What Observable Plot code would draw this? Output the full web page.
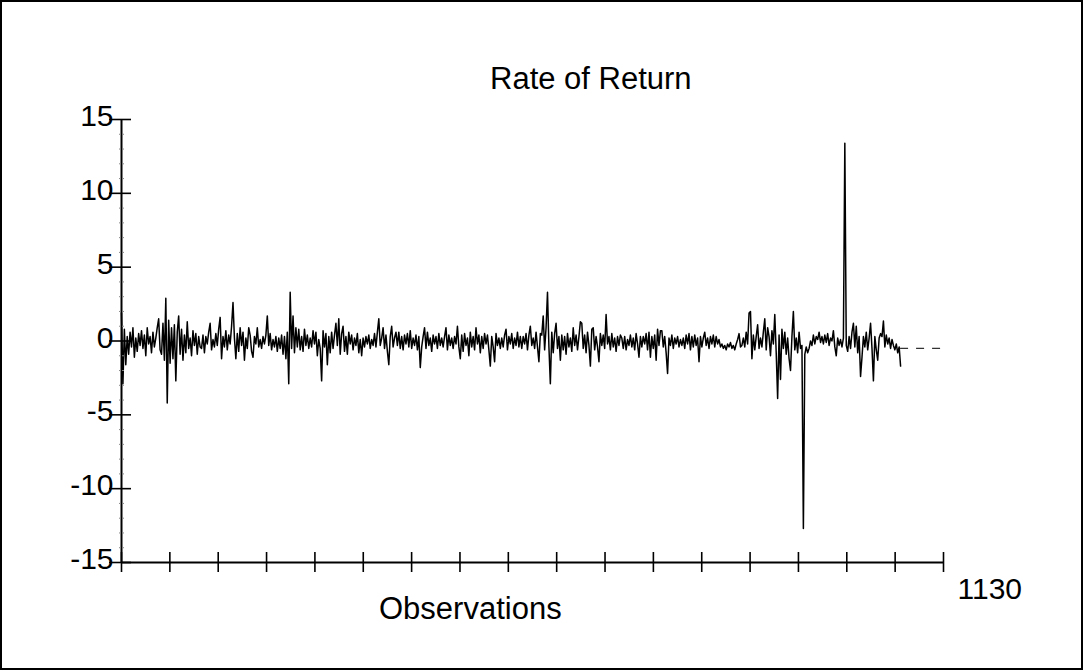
<!DOCTYPE html>
<html><head><meta charset="utf-8">
<script src="https://cdn.jsdelivr.net/npm/d3@7"></script>
<script src="https://cdn.jsdelivr.net/npm/@observablehq/plot@0.6"></script>
<style>
body{margin:0;background:#fff;}
#wrap{position:relative;width:1084px;height:671px;font-family:"Liberation Sans",Arial,sans-serif;overflow:hidden;}
#frame{position:absolute;left:0;top:0;width:1083px;height:670px;border:2px solid #000;box-sizing:border-box;pointer-events:none;}
.lbl{position:absolute;font-size:31px;line-height:31px;color:#000;white-space:nowrap;}
#chart svg{position:absolute;left:0;top:0;}
</style></head>
<body>
<div id="wrap">
  <div id="chart"></div>
  <div class="lbl" id="title" style="left:490px;top:63px">Rate of Return</div>
  <div class="lbl" id="xlabel" style="left:379px;top:593px">Observations</div>
  <div id="frame"></div>
</div>
<script>
const returns = [
  1.9, -2.9, 0.8, -1.6, 0.3, -0.9, 0.6, -0.4, 0.9, -1.1, 0.2, -0.7, 0.5, -0.3,
  0.7, -0.5, 0.4, -1.0, 0.9, -0.2, 0.3, -0.8, 0.6, -0.4, 0.2, 0.9, 1.5, -0.6,
  -0.9, 1.2, -1.3, 2.9, -4.2, 1.4, -1.5, 0.9, -1.2, 1.1, -2.7, 0.6, 1.7, -0.9,
  0.8, -1.3, 0.4, -0.8, 1.3, -0.5, 0.2, -1.0, 0.7, -0.3, 0.5, -0.9, 0.3, -0.4,
  -0.5, 0.4, -0.8, 0.3, -0.2, 0.6, 1.2, -0.6, 0.1, -0.4, 0.5, -0.3, 0.8, 1.6,
  -1.2, 0.3, -0.4, 0.7, -0.6, 0.4, -0.2, 1.0, 2.6, 0.2, -1.2, 0.5, -0.7, 0.9,
  -0.3, 0.6, -1.3, 0.2, -0.5, 0.9, 0.4, -0.7, -1.1, 0.3, -0.2, 0.9, -0.4, 0.1,
  -0.5, 0.3, -0.2, 0.4, 1.7, -0.3, 0.5, -0.6, 0.1, -0.4, 0.3, -0.7, 0.2, -0.5,
  0.4, -0.9, 0.3, -1.2, 0.6, -2.9, 3.3, -0.5, 1.7, -0.8, 0.9, -0.4, 0.8, -0.6,
  0.3, -0.7, 0.8, -0.3, 0.4, -0.5, 0.2, -0.4, 0.7, -0.2, 0.6, -1.0, 0.1, -0.5,
  -2.7, 0.7, -0.4, 0.5, -1.6, 0.3, -0.8, 0.6, -0.5, 0.4, 1.2, -0.3, 1.5, -0.9,
  0.5, 1.0, -0.7, 0.3, -0.9, 0.6, -0.2, 0.4, -0.6, 0.2, -0.3, 0.5, -0.8, 0.1,
  -1.0, 0.2, -0.4, 0.3, -0.2, 0.4, -0.5, 0.1, -0.3, 0.5, -0.4, 0.6, 1.5, -0.3,
  0.2, 0.9, -0.5, 0.4, -0.7, -1.6, 0.3, 1.0, -0.4, 0.2, 0.6, -0.3, 0.6, -0.5,
  0.3, -0.6, 0.4, -0.2, 0.5, -0.4, 0.7, -0.5, 0.2, -0.3, 0.4, -0.6, 0.3, -1.8,
  -0.4, 0.3, 0.9, -0.5, 0.6, -0.3, 0.2, -0.7, 0.4, -0.2, 0.3, -0.5, 0.5, -0.3,
  0.2, -0.4, 0.3, 0.9, -0.6, 0.4, -0.3, 0.2, -0.5, 0.3, -0.2, 1.0, -0.4, -1.2,
  0.4, -0.7, 0.5, -0.3, 0.2, -1.0, 0.6, -0.4, 0.3, -0.6, 0.9, -0.2, 0.4, -0.8,
  0.3, -0.5, 0.5, -0.2, 0.4, -0.6, -1.7, 0.3, -0.4, -1.4, 0.5, -0.3, 0.2, -0.5,
  0.2, -0.4, 0.4, 0.8, -0.6, 0.3, -0.2, 0.5, -0.5, 0.2, -0.3, 0.6, -0.4, 0.3,
  -0.5, 0.3, -0.2, 0.5, -0.6, 0.4, 1.0, -0.3, 0.2, -0.5, 0.6, -0.4, -1.4, 0.5,
  0.4, 1.7, -0.6, 0.9, 3.3, -0.4, -2.9, 0.6, -0.8, 0.5, 1.2, -0.5, 0.3, -1.3,
  0.4, -0.6, 0.3, -0.9, 0.5, -0.4, 0.2, -0.7, 0.9, -0.3, 0.4, -0.6, 0.3, 1.3,
  1.2, -0.5, 0.4, -0.8, 0.6, -0.3, -1.7, 0.8, 0.9, -0.6, 0.3, -0.4, -1.4, 0.5,
  -0.3, 0.4, -0.5, 1.8, -0.2, 0.3, -0.6, 0.5, -0.4, 0.2, -0.7, 0.3, -0.3, 0.4,
  0.2, -0.5, 0.3, -0.6, 0.1, -0.3, 0.4, -0.4, 0.2, -0.6, 0.5, -0.2, -1.1, 0.3,
  -0.4, 0.3, -0.2, 0.5, -0.6, 0.6, -1.1, 0.3, -0.5, 0.4, -1.3, 0.8, -0.3, 0.7,
  0.7, -0.4, 0.3, -0.8, -2.2, 0.2, -0.3, 0.4, -0.5, 0.2, -0.2, 0.3, -0.4, 0.1,
  -0.3, 0.2, -0.5, 0.4, -0.2, 0.5, -0.6, 0.3, -0.4, 0.4, -0.3, 0.2, -1.4, 0.3,
  -0.4, 0.2, 0.6, -0.3, 0.2, -0.5, 0.3, -0.2, 0.4, -0.4, 0.3, -0.2, 0.1, -0.4,
  -0.2, -0.5, -0.3, -0.6, -0.2, -0.4, -0.1, -0.5, -0.3, -0.6, -0.2, 0.1, 0.5, -0.4,
  -0.3, 0.2, -0.4, 0.6, -0.2, 1.9, 2.0, -1.2, 0.4, -0.6, 0.3, 1.1, -0.5, 0.2,
  -0.4, 0.6, 1.5, -0.6, 0.9, 0.3, -1.0, 0.7, -0.2, 1.8, -0.8, -3.9, 0.4, -2.6,
  0.8, -0.5, 0.6, -0.9, 0.2, -1.2, -2.0, 0.3, 2.0, -0.6, 0.2, -0.8, 0.6, -0.5,
  -0.3, -12.7, -0.9, -0.4, -0.8, -0.5, 0.0, -0.3, 0.4, -0.2, 0.3, 0.1, 0.6, -0.1,
  0.3, -0.2, 0.4, -0.1, 0.5, -0.3, 0.2, 0.0, 0.7, -0.4, -1.0, 0.2, -0.3, 0.1,
  -0.4, 0.2, 13.4, -0.3, -0.7, 0.3, -0.5, 0.6, 1.2, -0.4, 1.0, -0.8, 0.3, -2.4,
  -1.1, 0.3, -0.4, 0.6, -0.6, 0.2, 1.2, -0.5, -2.7, 0.3, -0.6, -1.3, 0.2, 0.5,
  0.3, 1.35, -0.4, 0.4, -0.2, 0.2, -0.5, 0.1, -0.3, -0.6, -0.2, -0.8, -0.4, -1.7
];
const lastObs = 1071;      // last observation of the series
const xMax = 1130;         // end of the observation axis
const meanLevel = -0.5;    // dashed continuation level
const yMajor = [-15, -10, -5, 0, 5, 10, 15];
const yMinor = d3.range(-15, 16).filter(v => v % 5 !== 0);
const xTickCount = 17;
const xTicks = d3.range(xTickCount + 1).map(i => i * xMax / xTickCount);
const xEndLabel = "1130";

const data = returns.map((v, i) => ({obs: i * lastObs / (returns.length - 1), value: v}));
const font = '"Liberation Sans", Arial, sans-serif';

const chart = Plot.plot({
  width: 1084, height: 671,
  marginLeft: 121, marginRight: 141, marginTop: 119, marginBottom: 109,
  style: {fontFamily: font, background: "transparent", overflow: "visible", color: "#000"},
  x: {domain: [0, xMax], axis: null},
  y: {domain: [-15, 15], axis: null},
  marks: [
    Plot.ruleY([meanLevel], {x1: lastObs, x2: xMax, stroke: "#333", strokeWidth: 1.2, strokeDasharray: "8,8"}),
    Plot.lineY(data, {x: "obs", y: "value", stroke: "#000", strokeWidth: 1.5}),
    Plot.ruleX([0], {stroke: "#000", strokeWidth: 2}),
    Plot.ruleY([-15], {stroke: "#000", strokeWidth: 2}),
    Plot.axisY(yMinor, {anchor: "left", tickSize: 6, dx: 3, tickFormat: () => "", stroke: "#888", strokeWidth: 1, strokeDasharray: "2,1", label: null}),
    Plot.axisY(yMajor, {anchor: "left", tickSize: 22, dx: 10, tickFormat: () => "", strokeWidth: 1.6, label: null}),
    Plot.axisY(yMajor, {anchor: "left", tickSize: 0, tickPadding: 8, dy: -3, fontSize: 30, tickFormat: d => String(d), label: null}),
    Plot.axisX(xTicks, {anchor: "bottom", tickSize: 20, dy: -10, tickFormat: () => "", strokeWidth: 1.6, label: null}),
    Plot.axisX([xMax], {anchor: "bottom", tickSize: 0, tickPadding: 15, dx: 14, textAnchor: "start", fontSize: 30, tickFormat: () => xEndLabel, label: null})
  ]
});
document.getElementById("chart").appendChild(chart);
</script>
</body></html>
